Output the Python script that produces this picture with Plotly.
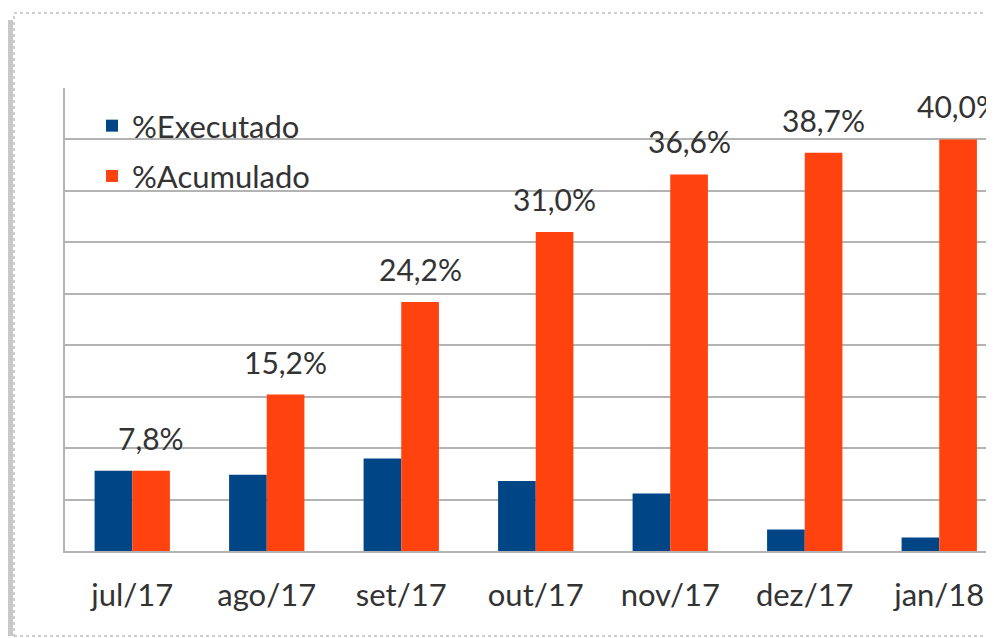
import plotly.graph_objects as go

categories = ["jul/17", "ago/17", "set/17", "out/17", "nov/17", "dez/17", "jan/18"]
executado = [7.8, 7.4, 9.0, 6.8, 5.6, 2.1, 1.3]
acumulado = [7.8, 15.2, 24.2, 31.0, 36.6, 38.7, 40.0]
labels_acum = ["7,8%", "15,2%", "24,2%", "31,0%", "36,6%", "38,7%", "40,0%"]

# page has an 8px body margin; figure sized to fill the remaining window
OFF = 8
W, H = 986, 630
# desired page coords of the plot area: left 65, top 88, bottom 551, right 994
L = 65 - OFF
T = 88 - OFF
B = OFF + H - 551
R = OFF + W - 994
pw, ph = W - L - R, H - T - B
spacing = 134.5

def px_x(p):
    return (p - OFF - L) / pw

def px_y(p):
    return (OFF + H - B - p) / ph

FONT = "Lato, Carlito, Calibri, sans-serif"
BLUE = "#004586"
ORANGE = "#FF420E"
GRID = "#B3B3B3"
TXT = "#333333"

fig = go.Figure()
fig.add_trace(go.Bar(x=categories, y=executado, name="%Executado",
                     marker=dict(color=BLUE, line=dict(width=0)),
                     legendgroup="a"))
fig.add_trace(go.Bar(x=categories, y=acumulado, name="%Acumulado",
                     marker=dict(color=ORANGE, line=dict(width=0)),
                     legendgroup="b"))

bar_w = 37.5
for c, v, t in zip(categories, acumulado, labels_acum):
    fig.add_annotation(x=c, y=v, text=t, showarrow=False, xref="x", yref="y",
                       xshift=bar_w / 2, yshift=13, yanchor="bottom",
                       font=dict(family=FONT, size=30, color=TXT))

shapes = [
    # shadow on the left
    dict(type="rect", xref="paper", yref="paper",
         x0=px_x(OFF), x1=px_x(13), y0=px_y(636), y1=px_y(20),
         fillcolor="#C8C8C8", line=dict(width=0), layer="below"),
    # outer frame
    dict(type="rect", xref="paper", yref="paper",
         x0=px_x(14), x1=px_x(1000), y0=px_y(636), y1=px_y(13),
         fillcolor="rgba(0,0,0,0)", line=dict(color="#A0A0A0", width=1, dash="dot"),
         layer="below"),
]

x_end = -0.5 + pw / spacing

fig.update_layout(
    width=W, height=H,
    margin=dict(l=L, r=R, t=T, b=B, pad=0),
    paper_bgcolor="white", plot_bgcolor="white",
    barmode="group", bargap=0.44, bargroupgap=0,
    font=dict(family=FONT, size=31, color=TXT),
    showlegend=True,
    legend=dict(x=px_x(92), y=px_y(99), xanchor="left", yanchor="top",
                bgcolor="rgba(0,0,0,0)", borderwidth=0,
                font=dict(family=FONT, size=31, color=TXT),
                tracegroupgap=7, traceorder="grouped"),
    xaxis=dict(range=[-0.5, x_end], showgrid=False, showline=True,
               linecolor=GRID, linewidth=2, ticks="outside", ticklen=16,
               tickcolor="rgba(0,0,0,0)", tickfont=dict(family=FONT, size=31, color=TXT),
               fixedrange=True),
    yaxis=dict(range=[0, 45], dtick=5, showgrid=True, gridcolor=GRID, gridwidth=2,
               showline=True, linecolor=GRID, linewidth=2, showticklabels=False,
               zeroline=False, ticks="", fixedrange=True),
    shapes=shapes,
)

fig.write_html("out.html")
